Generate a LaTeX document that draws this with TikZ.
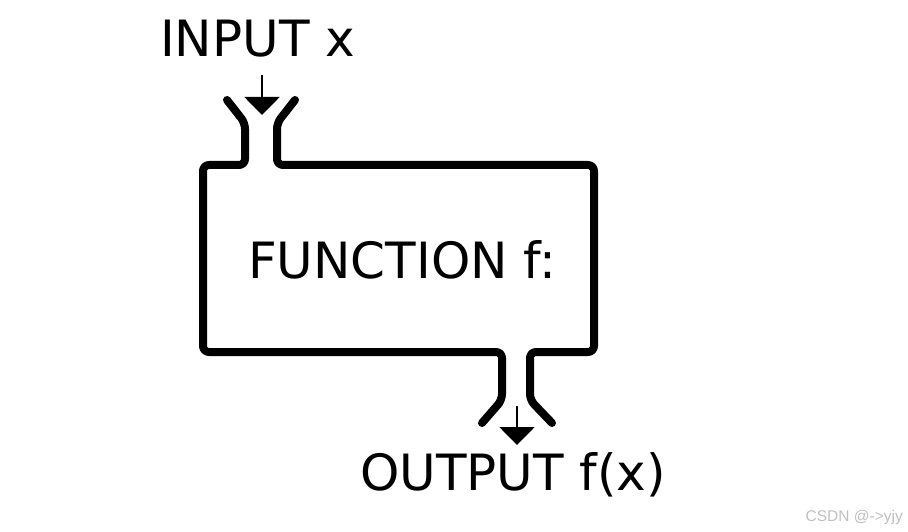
\documentclass[tikz,border=0pt]{standalone}
\usepackage{fontspec}
\setmainfont{DejaVu Sans}
\newfontfamily\zeichen{Liberation Sans}
\usetikzlibrary{arrows.meta}
\begin{document}
\begin{tikzpicture}[x=1pt,y=-1pt,
  wand/.style={line width=8pt,line join=round,line cap=round,rounded corners=6pt},
  pfeil/.style={line width=2pt,-{Triangle[width=35pt,length=18pt]}},
  schrift/.style={font=\fontsize{50}{60}\selectfont,inner sep=0pt,anchor=base west}]
\useasboundingbox (0,0) rectangle (908,532);
% Kasten mit Einlass oben und Auslass unten
\draw[wand] (227,100) -- (245,123) -- (245,165) -- (203,165) -- (203,352)
  -- (502,352) -- (502,400) -- (482,423);
\draw[wand] (295,100) -- (277,123) -- (277,165) -- (594,165) -- (594,352)
  -- (530,352) -- (530,400) -- (552,423);
% Beschriftungen
\node[schrift] (ein) at (160,57) {INPUT x};
\node[schrift] (fkt) at (248,278) {FUNCTION f:};
\node[schrift] (aus) at (360,490) {OUTPUT f(x)};
% Pfeile in den Kasten und heraus
\coordinate (einAnfang) at (262,75);
\coordinate (einSpitze) at (262,115);
\coordinate (ausAnfang) at (517,406);
\coordinate (ausSpitze) at (517,445);
\draw[pfeil] (einAnfang) -- (einSpitze);
\draw[pfeil] (ausAnfang) -- (ausSpitze);
% Wasserzeichen
\node[font=\zeichen\fontsize{15.5}{18}\selectfont,text=black!25,inner sep=0pt,anchor=base east]
  (marke) at (903,521) {CSDN @->yjy};
\end{tikzpicture}
\end{document}
